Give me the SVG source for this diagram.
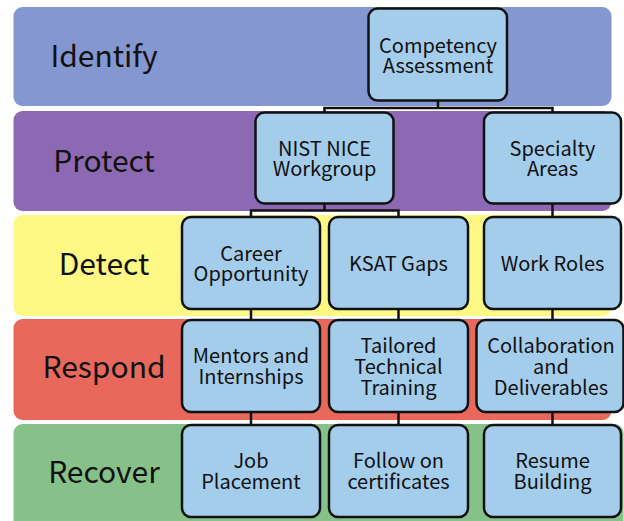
<svg xmlns="http://www.w3.org/2000/svg" width="624" height="521" viewBox="0 0 624 521">
  <style>
    .band-label { font-family: "Noto Sans CJK KR", "Noto Sans", sans-serif; font-size: 30px; fill: #111; text-anchor: middle; }
    .box { fill: #a4cdec; stroke: #111; stroke-width: 2.5; }
    .box-text { font-family: "Noto Sans CJK KR", "Noto Sans", sans-serif; font-size: 20px; fill: #111; text-anchor: middle; }
    .link { fill: none; stroke: #111; stroke-width: 2.5; stroke-linejoin: miter; }
  </style>
  <rect width="624" height="521" fill="#ffffff"/>

  <!-- framework bands -->
  <g id="bands">
    <g id="band-identify">
      <rect x="13.5" y="7" width="598" height="99" rx="9" fill="#8497d0"/>
      <text class="band-label" x="104" y="67">Identify</text>
    </g>
    <g id="band-protect">
      <rect x="13.5" y="111" width="598" height="100" rx="9" fill="#8d69b3"/>
      <text class="band-label" x="104" y="172">Protect</text>
    </g>
    <g id="band-detect">
      <rect x="13.5" y="215" width="598" height="101" rx="9" fill="#fdf984"/>
      <text class="band-label" x="104" y="275">Detect</text>
    </g>
    <g id="band-respond">
      <rect x="13.5" y="319" width="598" height="101" rx="9" fill="#e8695c"/>
      <text class="band-label" x="104" y="378">Respond</text>
    </g>
    <g id="band-recover">
      <rect x="13.5" y="424" width="610" height="110" rx="9" fill="#86c18a"/>
      <text class="band-label" x="104" y="483">Recover</text>
    </g>
  </g>

  <!-- tree connectors -->
  <g id="connectors">
    <path class="link" d="M438 100 V108 M324.5 113 V108 H552.5 V113"/>
    <path class="link" d="M324.5 203 V210.5 M251 217 V210.5 H398.5 V217"/>
    <path class="link" d="M552.5 203 V217"/>
    <path class="link" d="M251 309 V320"/>
    <path class="link" d="M398.5 309 V320"/>
    <path class="link" d="M552.5 309 V320"/>
    <path class="link" d="M251 412 V425"/>
    <path class="link" d="M398.5 412 V425"/>
    <path class="link" d="M552.5 412 V425"/>
  </g>

  <!-- nodes: multi-line labels are one text element with stacked tspans -->
  <g id="competency-assessment">
    <rect class="box" x="368.5" y="8.5" width="138.5" height="92" rx="9"/>
    <text class="box-text" x="438" y="52.5">Competency<tspan x="438" dy="20.5">Assessment</tspan></text>
  </g>
  <g id="nist-nice-workgroup">
    <rect class="box" x="255.5" y="112.5" width="138" height="91" rx="9"/>
    <text class="box-text" x="324.5" y="155.5">NIST NICE<tspan x="324.5" dy="20.5">Workgroup</tspan></text>
  </g>
  <g id="specialty-areas">
    <rect class="box" x="484" y="112.5" width="137" height="91" rx="9"/>
    <text class="box-text" x="552.5" y="155.5">Specialty<tspan x="552.5" dy="20.5">Areas</tspan></text>
  </g>
  <g id="career-opportunity">
    <rect class="box" x="182" y="217" width="138" height="92" rx="9"/>
    <text class="box-text" x="251" y="260.5">Career<tspan x="251" dy="20.5">Opportunity</tspan></text>
  </g>
  <g id="ksat-gaps">
    <rect class="box" x="329" y="217" width="139" height="92" rx="9"/>
    <text class="box-text" x="398.5" y="271">KSAT Gaps</text>
  </g>
  <g id="work-roles">
    <rect class="box" x="484" y="217" width="137" height="92" rx="9"/>
    <text class="box-text" x="552.5" y="271">Work Roles</text>
  </g>
  <g id="mentors-internships">
    <rect class="box" x="182" y="320" width="138" height="92" rx="9"/>
    <text class="box-text" x="251" y="363">Mentors and<tspan x="251" dy="21">Internships</tspan></text>
  </g>
  <g id="tailored-technical-training">
    <rect class="box" x="329" y="320" width="139" height="92" rx="9"/>
    <text class="box-text" x="398.5" y="352.5">Tailored<tspan x="398.5" dy="21">Technical</tspan><tspan x="398.5" dy="21">Training</tspan></text>
  </g>
  <g id="collaboration-deliverables">
    <rect class="box" x="476.5" y="320" width="147" height="92" rx="9"/>
    <text class="box-text" x="551" y="352.5">Collaboration<tspan x="551" dy="21">and</tspan><tspan x="551" dy="21">Deliverables</tspan></text>
  </g>
  <g id="job-placement">
    <rect class="box" x="182" y="425" width="138" height="92" rx="9"/>
    <text class="box-text" x="251" y="467.5">Job<tspan x="251" dy="21">Placement</tspan></text>
  </g>
  <g id="follow-on-certificates">
    <rect class="box" x="329" y="425" width="139" height="92" rx="9"/>
    <text class="box-text" x="398.5" y="467.5">Follow on<tspan x="398.5" dy="21">certificates</tspan></text>
  </g>
  <g id="resume-building">
    <rect class="box" x="484" y="425" width="137" height="92" rx="9"/>
    <text class="box-text" x="552.5" y="467.5">Resume<tspan x="552.5" dy="21">Building</tspan></text>
  </g>
</svg>
